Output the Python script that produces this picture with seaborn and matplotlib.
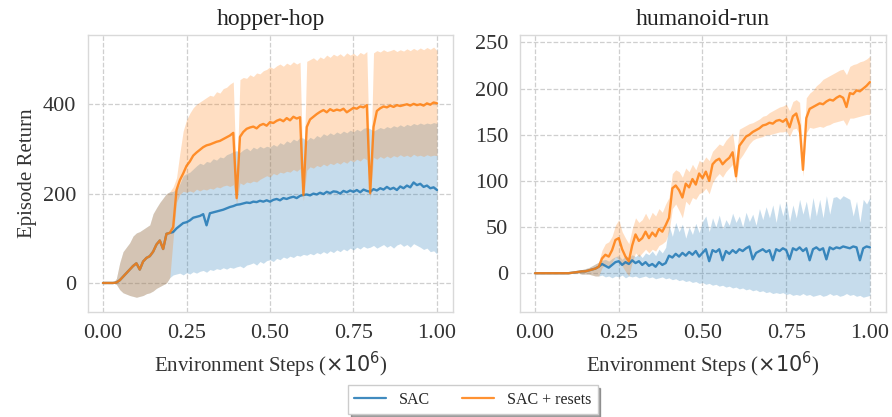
import numpy as np
import pandas as pd
import matplotlib
matplotlib.use("Agg")
import matplotlib.pyplot as plt
import seaborn as sns
from matplotlib.lines import Line2D

# ---------------- data ----------------
steps = np.linspace(0.0, 1.0, 101)  # environment steps (x 1e6)

series_names = ["SAC", "SAC + resets"]
panel_titles = ["hopper-hop", "humanoid-run"]
x_ticks = [0.00, 0.25, 0.50, 0.75, 1.00]
hopper_yticks = [0, 200, 400]
humanoid_yticks = [0, 50, 100, 150, 200, 250]

# hopper-hop, SAC
hop_sac_mean = [0, 0, 0, 0, 1, 6, 14, 22, 30, 38, 44, 30, 48, 56, 60, 70, 86, 95, 76, 110,
                112, 114, 122, 128, 134, 136, 140, 146, 148, 150, 154, 129, 156, 158, 160, 162, 164, 167, 170, 172,
                175, 176, 178, 180, 179, 182, 181, 184, 182, 185, 182, 186, 188, 185, 190, 188, 191, 193, 190, 195,
                197, 198, 196, 200, 198, 202, 199, 204, 201, 205, 204, 200, 206, 203, 207, 204, 208, 203, 209, 206,
                204, 210, 207, 212, 209, 215, 210, 213, 208, 216, 212, 218, 214, 225, 219, 222, 215, 218, 212, 214, 208]
hop_sac_low = [0, 0, 0, 0, -3, -15, -22, -25, -28, -30, -32, -30, -28, -24, -22, -18, -12, -8, -4, 0,
               12, 18, 20, 22, 18, 23, 20, 25, 22, 26, 28, 24, 30, 28, 32, 30, 34, 31, 35, 33,
               36, 38, 34, 40, 42, 45, 40, 48, 44, 50, 52, 48, 55, 52, 58, 55, 60, 57, 62, 60,
               64, 62, 66, 63, 68, 65, 70, 66, 72, 68, 74, 70, 76, 72, 78, 74, 80, 76, 82, 78,
               80, 84, 78, 82, 86, 80, 84, 78, 85, 88, 82, 86, 80, 88, 84, 80, 75, 78, 70, 72, 65]
hop_sac_high = [0, 0, 0, 0, 10, 45, 70, 80, 90, 105, 112, 115, 120, 125, 130, 155, 168, 180, 190, 200,
                204, 205, 210, 222, 240, 245, 248, 255, 262, 268, 265, 272, 270, 278, 275, 282, 280, 287, 290, 294,
                296, 292, 298, 302, 296, 304, 300, 306, 302, 306, 304, 310, 306, 314, 310, 318, 314, 322, 318, 326,
                324, 318, 326, 322, 330, 326, 334, 330, 336, 332, 338, 334, 340, 336, 342, 338, 344, 340, 346, 348,
                345, 340, 344, 348, 345, 350, 347, 352, 349, 354, 350, 355, 352, 357, 354, 358, 355, 358, 356, 359, 357]

# hopper-hop, SAC + resets from 0.2M steps on (identical to SAC before that)
hop_rst_mean_after = [112, 125, 208, 230, 245, 262, 272, 285, 292, 298, 304, 308, 310, 313, 316, 318, 322, 326, 330, 336,
                      190, 327, 338, 345, 348, 350, 346, 353, 356, 352, 360, 358, 363, 366, 362, 369, 364, 372, 368, 371,
                      197, 349, 366, 372, 378, 383, 387, 382, 389, 385, 388, 386, 390, 382, 387, 392, 390, 395, 393, 398,
                      201, 349, 385, 391, 395, 393, 397, 394, 398, 396, 398, 400, 397, 401, 398, 400, 397, 402, 399, 404, 402]
hop_rst_low_after = [12, 100, 180, 198, 205, 203, 206, 203, 210, 206, 210, 208, 212, 210, 215, 213, 217, 219, 216, 220,
                     178, 224, 220, 226, 224, 228, 226, 232, 236, 240, 237, 245, 242, 248, 246, 250, 248, 254, 250, 256,
                     184, 252, 260, 257, 263, 260, 266, 262, 268, 265, 270, 266, 272, 268, 275, 271, 277, 273, 280, 276,
                     188, 281, 277, 283, 279, 284, 280, 285, 282, 287, 283, 286, 282, 288, 284, 286, 283, 287, 284, 286, 285]
hop_rst_high_after = [204, 215, 235, 290, 340, 365, 380, 392, 400, 405, 410, 415, 420, 418, 428, 425, 435, 438, 445, 450,
                      210, 455, 460, 458, 466, 462, 470, 468, 475, 478, 484, 480, 486, 490, 485, 492, 488, 495, 490, 494,
                      215, 496, 500, 504, 498, 506, 502, 510, 505, 512, 508, 513, 507, 515, 510, 514, 508, 516, 512, 518,
                      218, 515, 520, 517, 522, 518, 520, 523, 518, 522, 519, 524, 520, 525, 521, 526, 522, 527, 523, 528, 520]

# humanoid-run, SAC
hum_sac_mean = [0, 0, 0, 0, 0, 0, 0, 0, 0, 0, 0, 0.5, 1, 1.5, 2, 2, 3, 4, 5, 7,
                10, 8, 6, 9, 12, 13, 9, 12, 10, 14, 11, 13, 9, 12, 8, 10, 7, 12, 9, 11,
                19, 17, 21, 18, 22, 19, 23, 20, 24, 18, 22, 26, 13, 25, 23, 26, 14, 24, 21, 25,
                22, 26, 24, 27, 29, 15, 22, 24, 26, 23, 25, 14, 26, 24, 27, 25, 15, 27, 25, 28,
                24, 27, 14, 26, 28, 25, 27, 15, 28, 26, 28, 27, 29, 28, 27, 29, 28, 14, 27, 29, 28]
hum_sac_low = [0, 0, 0, 0, 0, 0, 0, 0, 0, 0, 0, 0, 0, 0, -1, -1, -1, -2, -3, -3,
               -2, -4, -3, -5, -3, -4, -2, -5, -3, -4, -3, -5, -4, -3, -5, -4, -6, -5, -4, -6,
               -5, -7, -6, -8, -7, -9, -8, -10, -9, -11, -10, -12, -11, -13, -12, -14, -13, -15, -14, -16,
               -15, -17, -16, -18, -17, -19, -18, -20, -19, -21, -20, -22, -21, -22, -21, -23, -22, -24, -23, -24,
               -22, -24, -23, -25, -24, -23, -25, -24, -22, -24, -23, -25, -24, -22, -24, -23, -25, -24, -26, -25, -24]
hum_sac_high = [0, 0, 0, 0, 0, 0, 0, 0, 0, 0, 0, 0, 2, 3, 4, 5, 6, 8, 10, 12,
                14, 15, 13, 16, 18, 19, 15, 19, 17, 20, 18, 21, 17, 22, 20, 24, 19, 26, 22, 28,
                52, 40, 55, 45, 53, 38, 50, 42, 54, 44, 56, 62, 45, 60, 50, 63, 48, 58, 52, 65,
                55, 62, 50, 66, 56, 64, 52, 70, 58, 72, 60, 74, 55, 76, 62, 78, 56, 74, 60, 80,
                64, 78, 58, 82, 62, 80, 60, 84, 64, 82, 83, 80, 84, 82, 80, 62, 78, 55, 80, 75, 82]

# humanoid-run, SAC + resets from 0.2M steps on (identical to SAC before that)
hum_rst_mean_after = [16, 20, 18, 25, 36, 38, 26, 18, 13, 30, 42, 35, 38, 45, 38, 44, 40, 48, 45, 52,
                      60, 92, 95, 90, 82, 97, 93, 102, 96, 108, 103, 110, 100, 118, 122, 124, 118, 122, 125, 131,
                      105, 138, 143, 148, 150, 153, 155, 157, 160, 161, 163, 162, 165, 166, 164, 167, 158, 170, 173, 160,
                      112, 168, 178, 180, 182, 184, 183, 186, 188, 187, 190, 192, 190, 180, 195, 194, 198, 197, 200, 203, 207]
hum_rst_low_after = [6, 10, 8, 12, 18, 15, 8, 2, -3, 12, 22, 18, 22, 26, 22, 26, 24, 30, 32, 35,
                     45, 70, 75, 68, 60, 78, 74, 82, 80, 86, 88, 92, 86, 98, 104, 108, 104, 110, 114, 118,
                     98, 123, 128, 134, 140, 144, 146, 147, 148, 150, 150, 151, 152, 153, 153, 154, 148, 156, 157, 150,
                     105, 152, 158, 157, 158, 159, 158, 160, 161, 163, 164, 165, 166, 160, 168, 168, 169, 170, 171, 172, 172]
hum_rst_high_after = [25, 32, 34, 40, 52, 58, 45, 38, 32, 48, 60, 55, 58, 65, 58, 66, 62, 70, 66, 75,
                      82, 108, 112, 110, 104, 114, 110, 118, 112, 122, 120, 126, 122, 132, 136, 140, 138, 144, 148, 152,
                      125, 156, 158, 160, 162, 163, 165, 167, 170, 171, 174, 176, 178, 180, 181, 183, 176, 186, 188, 185,
                      125, 190, 195, 198, 203, 206, 210, 212, 214, 216, 218, 220, 221, 215, 224, 226, 227, 229, 230, 232, 235]

# -------------- assemble --------------
n0 = 20  # shared prefix (first 0.2M steps)
hop_rst_mean = hop_sac_mean[:n0] + hop_rst_mean_after
hop_rst_low = hop_sac_low[:n0] + hop_rst_low_after
hop_rst_high = hop_sac_high[:n0] + hop_rst_high_after
hum_rst_mean = hum_sac_mean[:n0] + hum_rst_mean_after
hum_rst_low = hum_sac_low[:n0] + hum_rst_low_after
hum_rst_high = hum_sac_high[:n0] + hum_rst_high_after

panels = [
    {"title": panel_titles[0], "yticks": hopper_yticks, "ylim": (-65, 555),
     "series": [(hop_sac_mean, hop_sac_low, hop_sac_high), (hop_rst_mean, hop_rst_low, hop_rst_high)]},
    {"title": panel_titles[1], "yticks": humanoid_yticks, "ylim": (-42, 258),
     "series": [(hum_sac_mean, hum_sac_low, hum_sac_high), (hum_rst_mean, hum_rst_low, hum_rst_high)]},
]

# -------------- style --------------
sns.set_style("whitegrid", {"grid.linestyle": "--", "axes.edgecolor": "#d9d9d9",
                            "grid.color": "#cfcfcf"})
plt.rcParams["font.family"] = ["Liberation Serif", "DejaVu Serif"]
plt.rcParams["mathtext.fontset"] = "dejavusans"

colors = ["#1f77b4", "#ff7f0e"]

fig = plt.figure(figsize=(8.92, 4.17), dpi=100)
ax_rects = [[88 / 892, 105 / 417, 365 / 892, 277 / 417],
            [520 / 892, 105 / 417, 366 / 892, 277 / 417]]

for i, (rect, p) in enumerate(zip(ax_rects, panels)):
    ax = fig.add_axes(rect)
    for name, (m, lo, hi), c in zip(series_names, p["series"], colors):
        ax.fill_between(steps, lo, hi, color=c, alpha=0.25, linewidth=0)
        df = pd.DataFrame({"x": steps, "y": m})
        sns.lineplot(data=df, x="x", y="y", ax=ax, color=c, linewidth=1.7, alpha=0.85)
    ax.set_xlim(-0.045, 1.048)
    ax.set_ylim(*p["ylim"])
    ax.set_xticks(x_ticks)
    ax.set_xticklabels([f"{t:.2f}" for t in x_ticks])
    ax.set_yticks(p["yticks"])
    ax.tick_params(labelsize=16, colors="#333333", pad=5)
    ax.set_title(p["title"], fontsize=17, color="#222222", pad=7)
    ax.set_xlabel(r"Environment Steps ($\times 10^6$)", fontsize=15, color="#333333", labelpad=5)
    ax.set_ylabel("")
    for s in ax.spines.values():
        s.set_color("#d9d9d9")
        s.set_linewidth(1.0)
    ax.grid(True, linestyle="--", color="#cfcfcf", linewidth=0.9)
    if i == 0:
        ax.set_ylabel("Episode Return", fontsize=15, color="#333333", labelpad=4)

handles = [Line2D([0], [0], color=c, linewidth=1.6, alpha=0.85) for c in colors]
fig.legend(handles, series_names, loc="lower center", bbox_to_anchor=(0.53, -0.012),
           ncol=2, fontsize=11.5, frameon=True, shadow=True, fancybox=False,
           columnspacing=2.0, handlelength=2.0, borderpad=0.4)

fig.savefig("out.png", dpi=100)
